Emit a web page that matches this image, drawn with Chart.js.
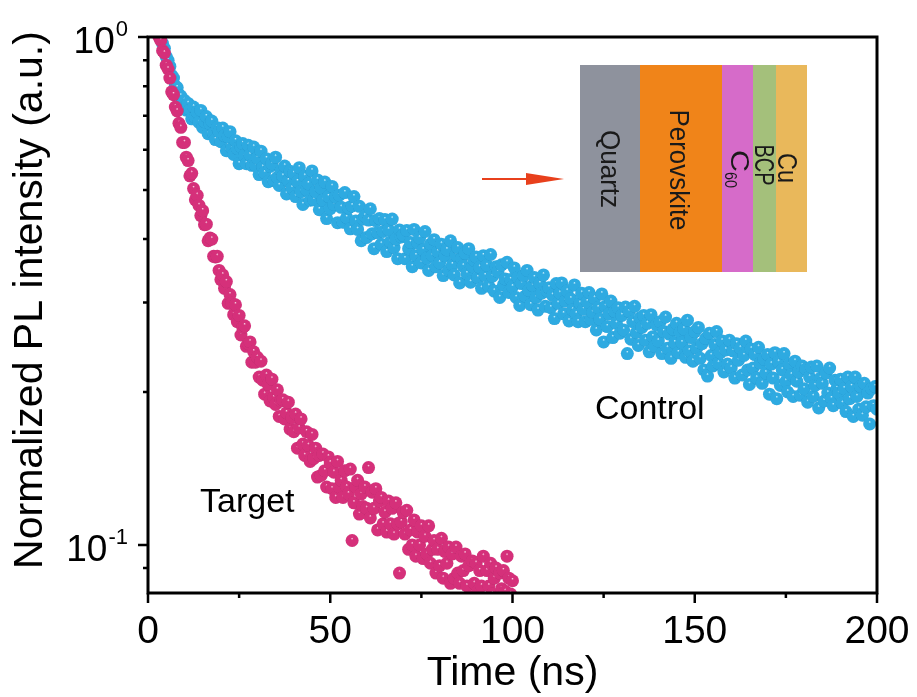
<!DOCTYPE html>
<html>
<head>
<meta charset="utf-8">
<script src="https://cdn.jsdelivr.net/npm/chart.js@4.4.1/dist/chart.umd.min.js"></script>
<style>
  body { margin: 0; background: #fff; }
  canvas { display: block; }
</style>
</head>
<body>
<canvas id="plChart" width="917" height="697"></canvas>
<script>
'use strict';
// values (time in ns, normalized PL)
let controlTime = [4,4.5,5,5.5,6,6.5,7,7.5,8,8.5,9,9.5,
  10,10.5,11,11.5,12,12.5,13,13.5,14,14.5,15,15.5,16,16.5,17,17.5,18,18.5,19,19.5,
  20,20.5,21,21.5,22,22.5,23,23.5,24,24.5,25,25.5,26,26.5,27,27.5,28,28.5,29,29.5,
  30,30.5,31,31.5,32,32.5,33,33.5,34,34.5,35,35.5,36,36.5,37,37.5,38,38.5,39,39.5,
  40,40.5,41,41.5,42,42.5,43,43.5,44,44.5,45,45.5,46,46.5,47,47.5,48,48.5,49,49.5,
  50,50.5,51,51.5,52,52.5,53,53.5,54,54.5,55,55.5,56,56.5,57,57.5,58,58.5,59,59.5,
  60,60.5,61,61.5,62,62.5,63,63.5,64,64.5,65,65.5,66,66.5,67,67.5,68,68.5,69,69.5,
  70,70.5,71,71.5,72,72.5,73,73.5,74,74.5,75,75.5,76,76.5,77,77.5,78,78.5,79,79.5,
  80,80.5,81,81.5,82,82.5,83,83.5,84,84.5,85,85.5,86,86.5,87,87.5,88,88.5,89,89.5,
  90,90.5,91,91.5,92,92.5,93,93.5,94,94.5,95,95.5,96,96.5,97,97.5,98,98.5,99,99.5,
  100,100.5,101,101.5,102,102.5,103,103.5,104,104.5,105,105.5,106,106.5,107,107.5,108,108.5,109,109.5,
  110,110.5,111,111.5,112,112.5,113,113.5,114,114.5,115,115.5,116,116.5,117,117.5,118,118.5,119,119.5,
  120,120.5,121,121.5,122,122.5,123,123.5,124,124.5,125,125.5,126,126.5,127,127.5,128,128.5,129,129.5,
  130,130.5,131,131.5,132,132.5,133,133.5,134,134.5,135,135.5,136,136.5,137,137.5,138,138.5,139,139.5,
  140,140.5,141,141.5,142,142.5,143,143.5,144,144.5,145,145.5,146,146.5,147,147.5,148,148.5,149,149.5,
  150,150.5,151,151.5,152,152.5,153,153.5,154,154.5,155,155.5,156,156.5,157,157.5,158,158.5,159,159.5,
  160,160.5,161,161.5,162,162.5,163,163.5,164,164.5,165,165.5,166,166.5,167,167.5,168,168.5,169,169.5,
  170,170.5,171,171.5,172,172.5,173,173.5,174,174.5,175,175.5,176,176.5,177,177.5,178,178.5,179,179.5,
  180,180.5,181,181.5,182,182.5,183,183.5,184,184.5,185,185.5,186,186.5,187,187.5,188,188.5,189,189.5,
  190,190.5,191,191.5,192,192.5,193,193.5,194,194.5,195,195.5,196,196.5,197,197.5,198,198.5,199,199.5,200];
let controlPL = [0.97,0.95,0.915,0.90,0.875,0.84,0.83,0.80,0.795,0.77,0.765,0.745,
  0.75,0.718,0.74,0.718,0.69,0.728,0.695,0.711,0.679,0.717,0.664,0.681,0.697,0.645,0.675,0.683,0.646,0.628,0.663,0.651,
  0.622,0.662,0.639,0.597,0.636,0.651,0.604,0.587,0.625,0.603,0.563,0.608,0.617,0.583,0.563,0.612,0.586,0.559,0.607,0.559,
  0.578,0.536,0.596,0.554,0.540,0.576,0.519,0.556,0.563,0.522,0.580,0.529,0.510,0.545,0.532,0.557,0.491,0.521,0.544,0.504,
  0.539,0.485,0.519,0.553,0.496,0.468,0.532,0.500,0.514,0.477,0.545,0.478,0.496,0.523,0.457,0.504,0.477,0.518,0.439,0.485,
  0.459,0.508,0.468,0.484,0.431,0.488,0.462,0.432,0.494,0.441,0.461,0.419,0.465,0.485,0.434,0.418,0.464,0.397,0.438,0.444,
  0.403,0.436,0.459,0.410,0.383,0.435,0.412,0.439,0.391,0.414,0.437,0.378,0.417,0.395,0.438,0.385,0.400,0.366,0.417,0.404,
  0.407,0.366,0.416,0.383,0.394,0.353,0.418,0.371,0.393,0.402,0.359,0.381,0.414,0.367,0.347,0.391,0.371,0.399,0.353,0.378,
  0.359,0.391,0.339,0.371,0.381,0.347,0.397,0.356,0.340,0.372,0.385,0.328,0.366,0.354,0.375,0.342,0.383,0.329,0.353,0.363,
  0.369,0.336,0.352,0.320,0.371,0.339,0.355,0.323,0.373,0.338,0.316,0.353,0.345,0.307,0.356,0.325,0.334,0.360,0.314,0.333,
  0.322,0.351,0.307,0.336,0.296,0.327,0.339,0.309,0.347,0.317,0.297,0.324,0.336,0.307,0.290,0.327,0.313,0.340,0.295,0.316,
  0.321,0.293,0.310,0.279,0.327,0.299,0.313,0.328,0.285,0.302,0.316,0.276,0.305,0.290,0.325,0.285,0.275,0.299,0.313,0.291,
  0.275,0.301,0.314,0.278,0.287,0.306,0.265,0.293,0.278,0.312,0.251,0.295,0.269,0.285,0.302,0.256,0.288,0.273,0.293,0.261,
  0.283,0.265,0.294,0.238,0.288,0.254,0.275,0.295,0.262,0.247,0.280,0.268,0.283,0.253,0.273,0.240,0.284,0.257,0.246,0.271,
  0.252,0.275,0.238,0.263,0.281,0.244,0.260,0.233,0.266,0.250,0.273,0.239,0.262,0.250,0.266,0.234,0.277,0.241,0.256,0.230,
  0.263,0.244,0.268,0.233,0.249,0.221,0.255,0.215,0.261,0.236,0.225,0.248,0.263,0.228,0.239,0.252,0.219,0.242,0.227,0.253,
  0.223,0.241,0.213,0.249,0.231,0.244,0.216,0.236,0.252,0.221,0.207,0.243,0.223,0.237,0.213,0.245,0.228,0.208,0.232,0.218,
  0.237,0.198,0.227,0.213,0.239,0.194,0.229,0.206,0.221,0.238,0.210,0.200,0.227,0.216,0.196,0.230,0.210,0.219,0.197,0.225,
  0.203,0.222,0.191,0.214,0.224,0.196,0.206,0.225,0.186,0.213,0.208,0.192,0.218,0.199,0.223,0.194,0.188,0.211,0.203,0.199,
  0.212,0.190,0.203,0.183,0.214,0.194,0.205,0.179,0.214,0.196,0.185,0.205,0.180,0.208,0.187,0.199,0.173,0.203,0.188,0.205,0.185];

let targetTime = [3,3.5,4,4.5,5,5.5,6,6.5,7,7.5,8,8.5,9,9.5,
  10,10.5,11,11.5,12,12.5,13,13.5,14,14.5,15,15.5,16,16.5,17,17.5,18,18.5,19,19.5,
  20,20.5,21,21.5,22,22.5,23,23.5,24,24.5,25,25.5,26,26.5,27,27.5,28,28.5,29,29.5,
  30,30.5,31,31.5,32,32.5,33,33.5,34,34.5,35,35.5,36,36.5,37,37.5,38,38.5,39,39.5,
  40,40.5,41,41.5,42,42.5,43,43.5,44,44.5,45,45.5,46,46.5,47,47.5,48,48.5,49,49.5,
  50,50.5,51,51.5,52,52.5,53,53.5,54,54.5,55,55.5,56,56.5,57,57.5,58,58.5,59,59.5,
  60,60.5,61,61.5,62,62.5,63,63.5,64,64.5,65,65.5,66,66.5,67,67.5,68,68.5,69,69.5,
  70,70.5,71,71.5,72,72.5,73,73.5,74,74.5,75,75.5,76,76.5,77,77.5,78,78.5,79,79.5,
  80,80.5,81,81.5,82,82.5,83,83.5,84,84.5,85,85.5,86,86.5,87,87.5,88,88.5,89,89.5,
  90,90.5,91,91.5,92,92.5,93,93.5,94,94.5,95,95.5,96,96.5,97,97.5,98,98.5,99,99.5,100];
let targetPL = [1.0,0.985,0.94,0.93,0.88,0.865,0.83,0.78,0.77,0.728,0.715,0.676,0.664,0.62,
  0.62,0.58,0.571,0.533,0.539,0.503,0.478,0.488,0.466,0.445,0.455,0.427,0.428,0.397,0.402,0.40,0.37,0.369,0.37,0.347,
  0.333,0.34,0.32,0.33,0.299,0.311,0.299,0.284,0.297,0.275,0.283,0.259,0.268,0.27,0.246,0.249,0.251,0.229,0.24,0.229,
  0.234,0.214,0.23,0.211,0.198,0.216,0.207,0.192,0.212,0.195,0.189,0.202,0.179,0.192,0.193,0.177,0.182,0.191,0.169,0.178,
  0.167,0.181,0.155,0.17,0.177,0.158,0.15,0.167,0.157,0.146,0.165,0.148,0.155,0.136,0.15,0.137,0.151,0.14,0.13,0.149,
  0.145,0.129,0.139,0.124,0.146,0.13,0.134,0.124,0.14,0.13,0.126,0.141,0.102,0.121,0.13,0.134,0.115,0.126,0.119,0.13,
  0.118,0.142,0.113,0.127,0.118,0.129,0.107,0.122,0.124,0.11,0.116,0.106,0.122,0.11,0.118,0.105,0.121,0.11,0.088,0.111,
  0.116,0.105,0.117,0.098,0.107,0.1,0.112,0.095,0.106,0.1,0.109,0.094,0.104,0.096,0.109,0.092,0.098,0.102,0.088,0.098,
  0.091,0.103,0.086,0.097,0.092,0.099,0.084,0.096,0.086,0.099,0.088,0.084,0.095,0.089,0.096,0.083,0.091,0.079,0.093,0.084,
  0.092,0.081,0.089,0.083,0.095,0.078,0.089,0.083,0.092,0.08,0.086,0.09,0.078,0.088,0.082,0.089,0.081,0.095,0.086,0.08,0.085];

let xMajor = [0, 50, 100, 150, 200];
let xMinor = [25, 75, 125, 175];
let yMajor = [0.1, 1];
let yMajorExp = ['-1', '0'];
let yMinor = [0.09, 0.2, 0.3, 0.4, 0.5, 0.6, 0.7, 0.8, 0.9];

let layers = ['Quartz', 'Perovskite', 'C60', 'BCP', 'Cu'];

const FONT = "'Liberation Sans', Arial, sans-serif";

// shaded ball fill: a radial gradient placed on each point
function ballFill(base, dark, light) {
  return function (c) {
    let ch = c.chart;
    let p = c.parsed;
    if (!p || !ch.scales || !ch.scales.x) return base;
    let x = ch.scales.x.getPixelForValue(p.x);
    let y = ch.scales.y.getPixelForValue(p.y);
    if (!isFinite(x) || !isFinite(y)) return base;
    let g = ch.ctx.createRadialGradient(x, y - 2.2, 0.1, x, y, 6.8);
    g.addColorStop(0, light);
    g.addColorStop(0.18, base);
    g.addColorStop(0.9, base);
    g.addColorStop(1, dark);
    return g;
  };
}

function toPoints(ts, vs) {
  let pts = [];
  for (let i = 0; i < ts.length; i++) pts.push({ x: ts[i], y: vs[i] });
  return pts;
}

// rotated (top to bottom) text, squeezed to a given length
function vText(ctx, str, baseX, centerY, size, len) {
  ctx.save();
  ctx.font = size + 'px ' + FONT;
  let w = ctx.measureText(str).width;
  ctx.translate(baseX, centerY);
  ctx.rotate(Math.PI / 2);
  ctx.scale(len / w, 1);
  ctx.textAlign = 'center';
  ctx.textBaseline = 'alphabetic';
  ctx.fillText(str, 0, 0);
  ctx.restore();
}

let decor = {
  id: 'decor',
  afterDraw(chart) {
    let ctx = chart.ctx;
    let a = chart.chartArea;
    let xs = chart.scales.x;
    let ys = chart.scales.y;
    ctx.save();
    ctx.strokeStyle = '#000';
    ctx.fillStyle = '#000';

    // frame
    ctx.lineWidth = 3;
    ctx.strokeRect(a.left, a.top, a.right - a.left, a.bottom - a.top);

    // ticks
    ctx.lineWidth = 2.5;
    ctx.beginPath();
    xMajor.forEach(v => { let p = xs.getPixelForValue(v); ctx.moveTo(p, a.bottom); ctx.lineTo(p, a.bottom + 10); });
    xMinor.forEach(v => { let p = xs.getPixelForValue(v); ctx.moveTo(p, a.bottom); ctx.lineTo(p, a.bottom + 5); });
    yMajor.forEach(v => { let p = ys.getPixelForValue(v); ctx.moveTo(a.left, p); ctx.lineTo(a.left - 10, p); });
    yMinor.forEach(v => { let p = ys.getPixelForValue(v); ctx.moveTo(a.left, p); ctx.lineTo(a.left - 5, p); });
    ctx.stroke();

    // x tick labels
    ctx.font = '39px ' + FONT;
    ctx.textAlign = 'center';
    ctx.textBaseline = 'alphabetic';
    xMajor.forEach(v => ctx.fillText(String(v), xs.getPixelForValue(v), 643));

    // y tick labels 10^n
    yMajor.forEach((v, i) => {
      let p = ys.getPixelForValue(v);
      ctx.font = '22px ' + FONT;
      ctx.textAlign = 'right';
      let supW = ctx.measureText(yMajorExp[i]).width;
      ctx.fillText(yMajorExp[i], 128, p - 1);
      ctx.font = '37px ' + FONT;
      ctx.fillText('10', 128 - supW - 1, p + 16);
    });

    // axis titles
    ctx.font = '41px ' + FONT;
    ctx.textAlign = 'center';
    ctx.fillText('Time (ns)', (a.left + a.right) / 2, 685);
    ctx.save();
    ctx.translate(42, 300);
    ctx.rotate(-Math.PI / 2);
    ctx.fillText('Normalized PL intensity (a.u.)', 0, 0);
    ctx.restore();

    // series labels
    ctx.font = '34px ' + FONT;
    ctx.textAlign = 'left';
    ctx.fillText('Control', 595, 419);
    ctx.fillText('Target', 200, 512);

    // arrow
    ctx.strokeStyle = '#e8401c';
    ctx.fillStyle = '#e8401c';
    ctx.lineWidth = 2;
    ctx.beginPath();
    ctx.moveTo(482, 179);
    ctx.lineTo(535, 179);
    ctx.stroke();
    ctx.beginPath();
    ctx.moveTo(526, 173);
    ctx.lineTo(564, 179);
    ctx.lineTo(526, 185);
    ctx.closePath();
    ctx.fill();

    // device stack inset
    let edges = [580, 640, 722, 753, 776, 807];
    let colors = ['#8e929d', '#f08419', '#d66bc9', '#a4c07b', '#e9b85b'];
    for (let i = 0; i < layers.length; i++) {
      ctx.fillStyle = colors[i];
      ctx.fillRect(edges[i], 65, edges[i + 1] - edges[i], 207);
    }
    ctx.fillStyle = '#1a1a1a';
    vText(ctx, 'Quartz', 601, 169, 27, 78);
    vText(ctx, 'Perovskite', 670, 170, 27, 121);
    vText(ctx, 'C', 731, 161, 25, 22);
    vText(ctx, '60', 725, 180, 16, 16);
    vText(ctx, 'BCP', 755, 165, 27, 41);
    vText(ctx, 'Cu', 778, 168, 27, 30);

    ctx.restore();
  }
};

let context = document.getElementById('plChart').getContext('2d');
let chart = new Chart(context, {
  type: 'scatter',
  data: {
    datasets: [{
      label: 'Target',
      data: toPoints(targetTime, targetPL),
      pointRadius: 6.5,
      pointBorderWidth: 0,
      pointBackgroundColor: ballFill('#d5307a', '#b8296a', '#f7c6dc'),
      clip: 0
    }, {
      label: 'Control',
      data: toPoints(controlTime, controlPL),
      pointRadius: 6.5,
      pointBorderWidth: 0,
      pointBackgroundColor: ballFill('#2eaae1', '#2092cc', '#c4ebfa'),
      clip: 0
    }]
  },
  options: {
    responsive: false,
    animation: false,
    events: [],
    layout: { padding: { top: 37, right: 40, left: 0, bottom: 0 } },
    plugins: { legend: { display: false }, tooltip: { enabled: false } },
    scales: {
      x: {
        type: 'linear', min: 0, max: 200,
        ticks: { display: false },
        grid: { display: false },
        border: { display: false },
        afterFit(s) { s.height = 104; }
      },
      y: {
        type: 'logarithmic', min: 0.0804, max: 1,
        ticks: { display: false },
        grid: { display: false },
        border: { display: false },
        afterFit(s) { s.width = 148; }
      }
    }
  },
  plugins: [decor]
});
</script>
</body>
</html>
